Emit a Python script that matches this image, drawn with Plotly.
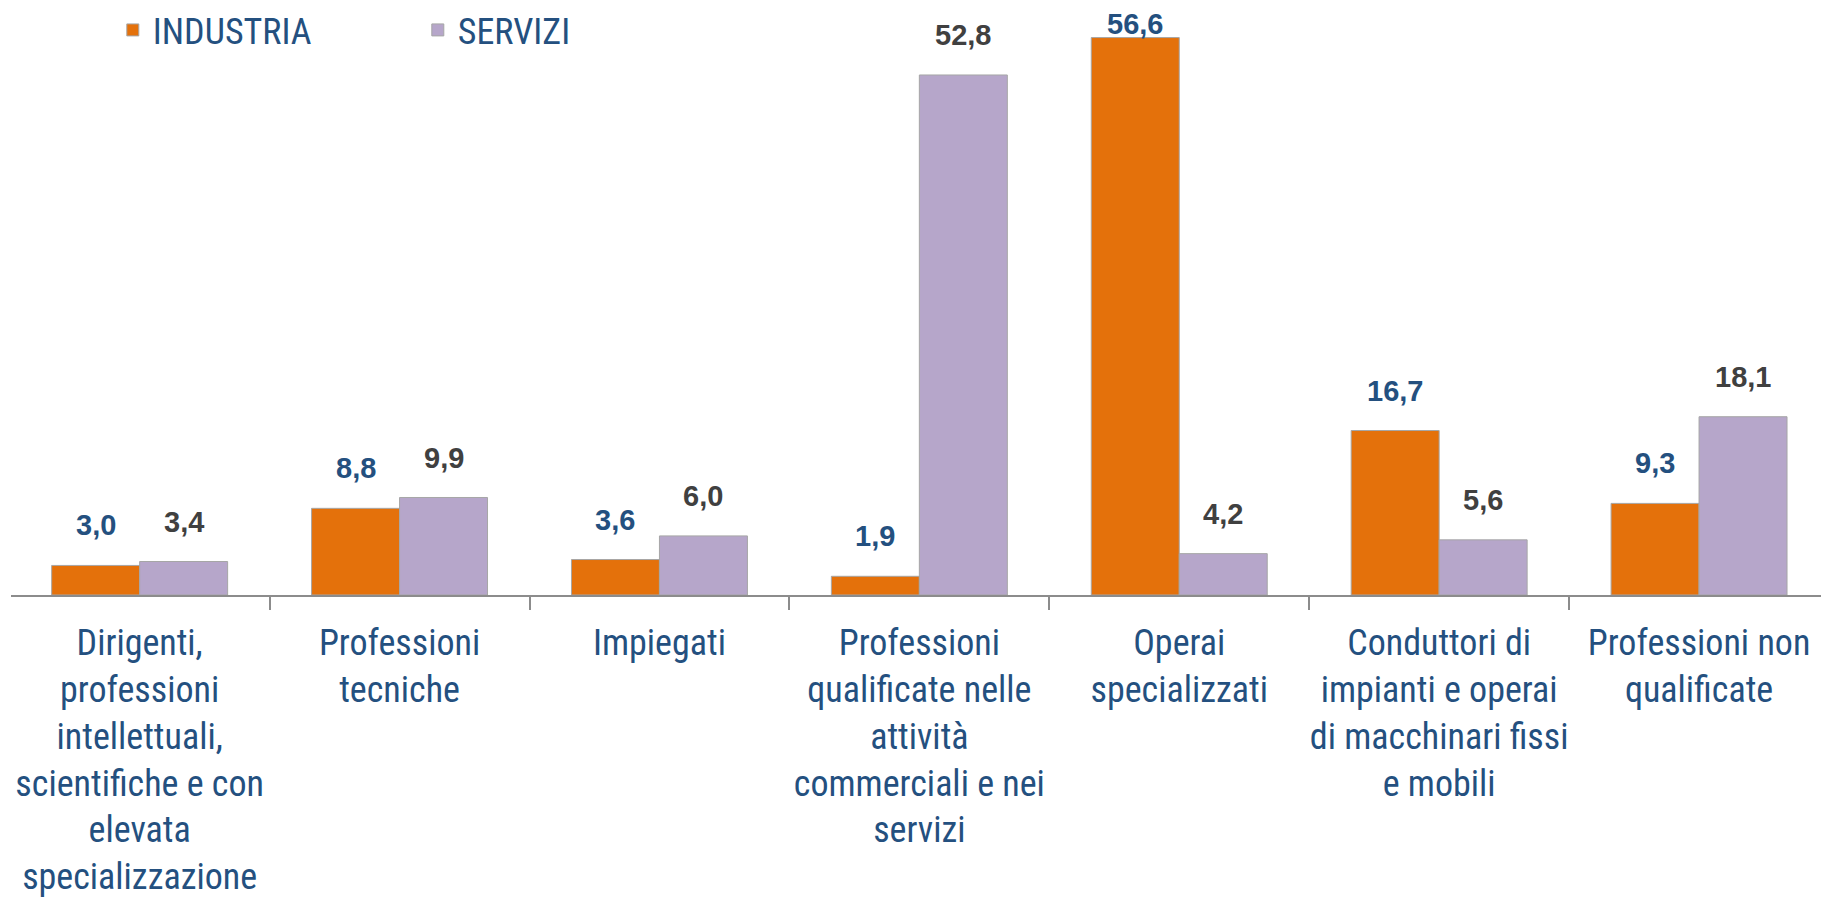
import plotly.graph_objects as go

categories = [
    "Dirigenti, professioni intellettuali, scientifiche e con elevata specializzazione",
    "Professioni tecniche",
    "Impiegati",
    "Professioni qualificate nelle attività commerciali e nei servizi",
    "Operai specializzati",
    "Conduttori di impianti e operai di macchinari fissi e mobili",
    "Professioni non qualificate",
]
tick_labels = [
    "Dirigenti,<br>professioni<br>intellettuali,<br>scientifiche e con<br>elevata<br>specializzazione",
    "Professioni<br>tecniche",
    "Impiegati",
    "Professioni<br>qualificate nelle<br>attività<br>commerciali e nei<br>servizi",
    "Operai<br>specializzati",
    "Conduttori di<br>impianti e operai<br>di macchinari fissi<br>e mobili",
    "Professioni non<br>qualificate",
]
industria = [3.0, 8.8, 3.6, 1.9, 56.6, 16.7, 9.3]
servizi = [3.4, 9.9, 6.0, 52.8, 4.2, 5.6, 18.1]
series_names = ["INDUSTRIA", "SERVIZI"]

ORANGE = "#E4710B"
PURPLE = "#B6A6CA"
BLUE_TXT = "#24507F"
GREY_TXT = "#404040"
NARROW = "Liberation Sans Narrow, Arial Narrow, Roboto Condensed, Roboto, sans-serif"
YMAX = 59.6
LABEL_OFFSET = 4.06   # data units above bar top (label centre)
LABEL_CAP = 58.0      # labels cannot go above this
BAR_HALF_PX = 44

fig = go.Figure()
for name, vals, col in [(series_names[0], industria, ORANGE), (series_names[1], servizi, PURPLE)]:
    fig.add_trace(go.Bar(
        name=name, x=categories, y=vals,
        marker=dict(color=col, line=dict(color="#A6A6A6", width=1)),
        hoverinfo="x+y",
    ))

def fmt(v):
    return f"{v:.1f}".replace(".", ",")

for vals, shift, col in [(industria, -BAR_HALF_PX, BLUE_TXT), (servizi, BAR_HALF_PX, GREY_TXT)]:
    for c, v in zip(categories, vals):
        fig.add_annotation(
            x=c, y=min(v + LABEL_OFFSET, LABEL_CAP), xref="x", yref="y",
            text=fmt(v), showarrow=False, xshift=shift, yanchor="middle",
            font=dict(family="Liberation Sans, Arial, sans-serif", size=29, color=col, weight="bold"),
        )

fig.update_layout(
    width=1829, height=898,
    margin=dict(l=3, r=8, t=0, b=311, autoexpand=False),
    paper_bgcolor="white", plot_bgcolor="white",
    barmode="group", bargap=0.323, bargroupgap=0,
    showlegend=True,
    legend=dict(
        orientation="h", x=0.056, y=1.0136, xanchor="left", yanchor="top",
        font=dict(family=NARROW, size=36, color=BLUE_TXT),
        entrywidth=260, bgcolor="rgba(0,0,0,0)",
    ),
    xaxis=dict(
        type="category", range=[-0.495, 6.5],
        tickmode="array", tickvals=categories, ticktext=tick_labels,
        tickson="boundaries", ticks="outside", ticklen=13, tickwidth=2, tickcolor="#8C8C8C",
        showline=True, linecolor="#8C8C8C", linewidth=2,
        showgrid=False, zeroline=False,
        tickfont=dict(family=NARROW, size=36, color=BLUE_TXT),
        tickangle=0, automargin=False, ticklabelstandoff=15,
    ),
    yaxis=dict(range=[0, YMAX], visible=False, showgrid=False, zeroline=False, fixedrange=True),
)

fig.write_html("out.html")
